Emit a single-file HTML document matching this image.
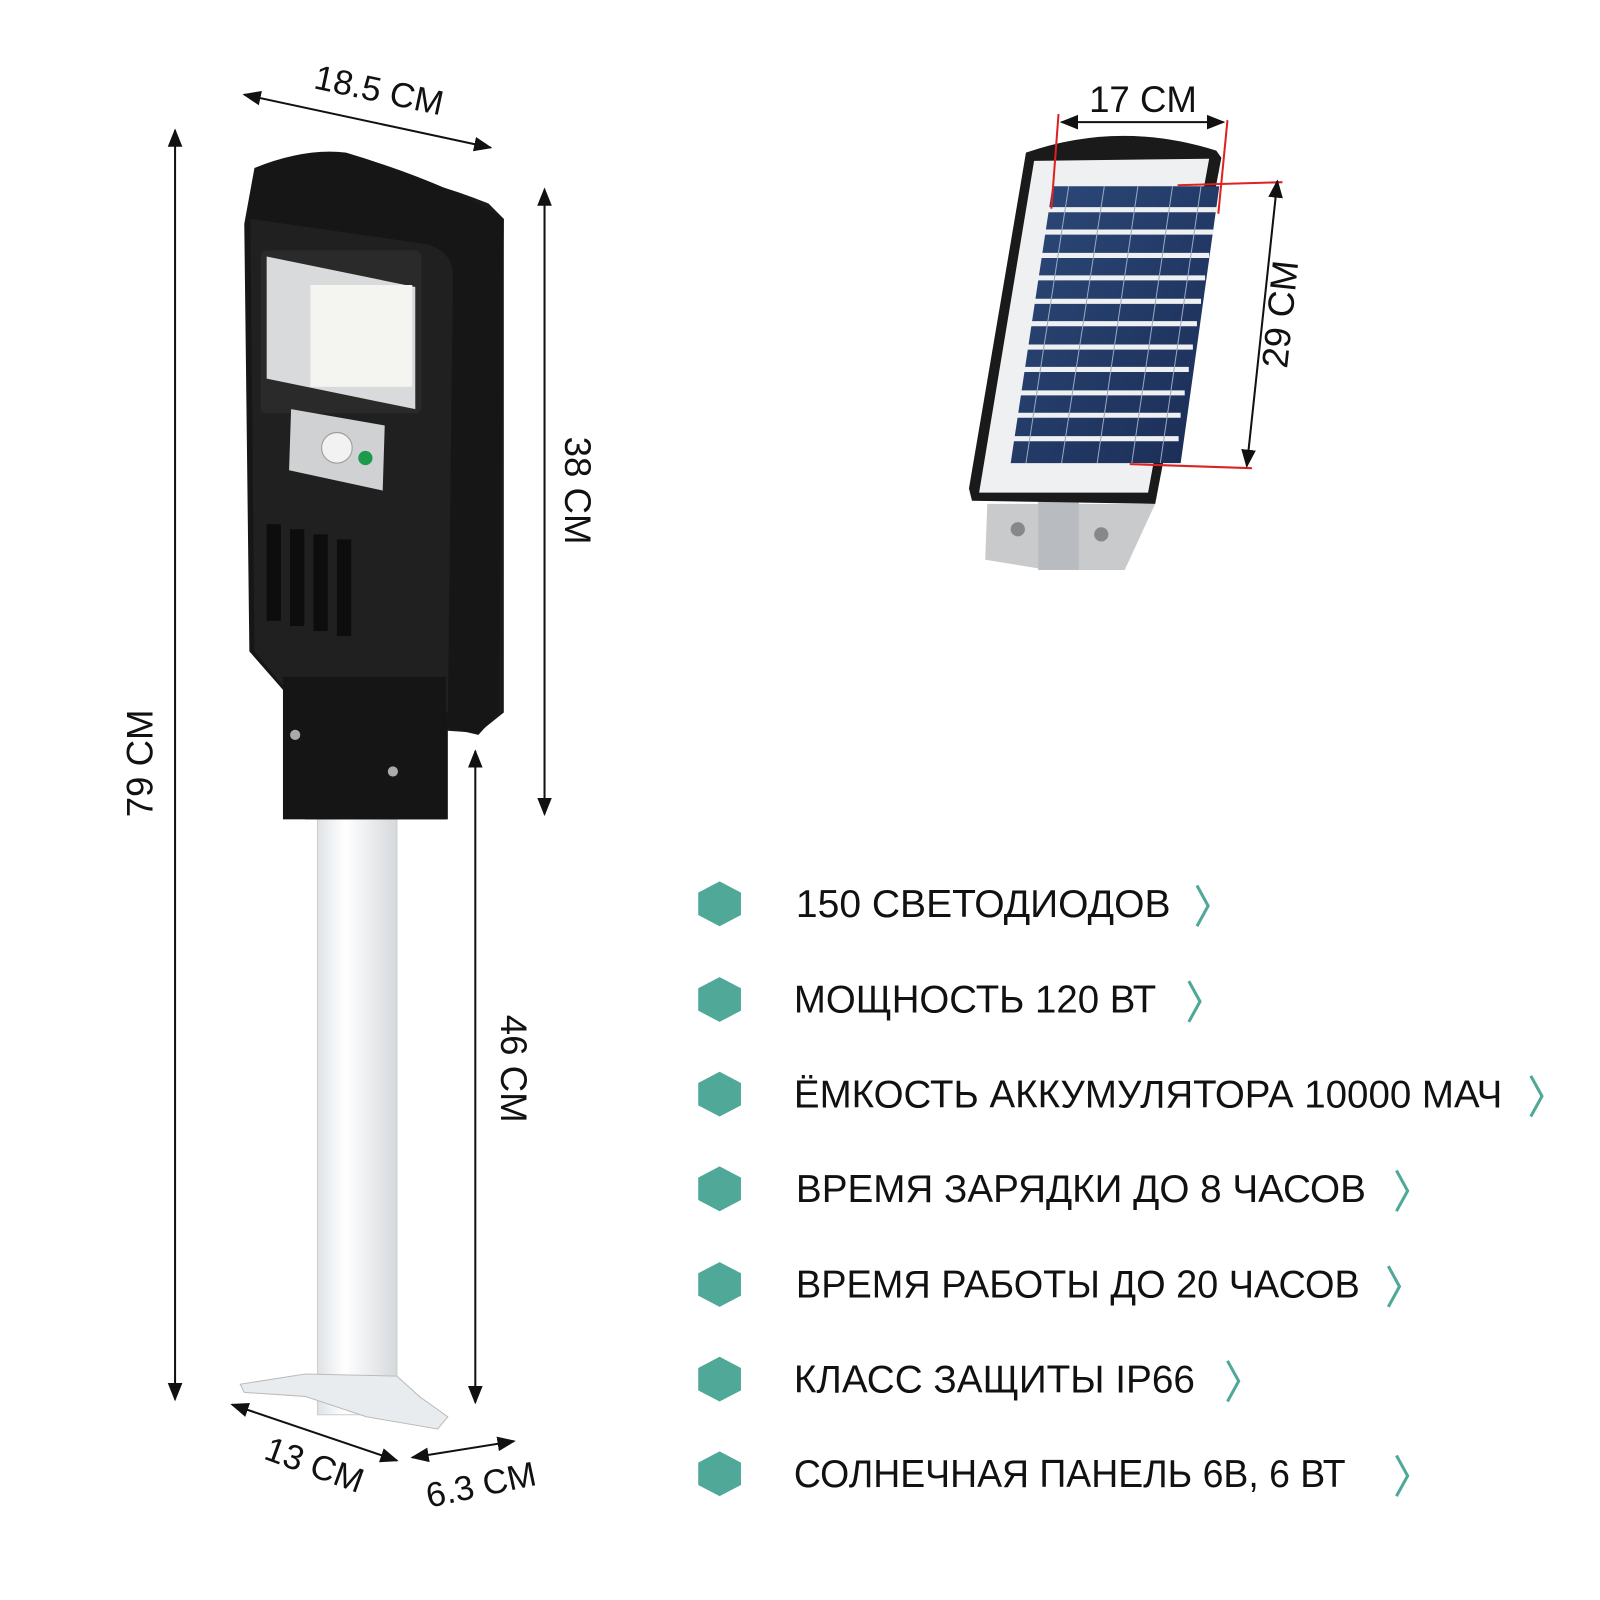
<!DOCTYPE html>
<html><head><meta charset="utf-8"><style>
html,body{margin:0;padding:0;background:#fff}
svg{display:block}
text{font-family:"Liberation Sans",sans-serif;fill:#111}
</style></head><body>
<svg width="1600" height="1600" viewBox="0 0 1572 1572" xmlns="http://www.w3.org/2000/svg">
<defs>
<marker id="a" viewBox="0 0 10 10" refX="9" refY="5" markerWidth="9" markerHeight="9" orient="auto-start-reverse"><path d="M0,1 L10,5 L0,9 z" fill="#111"/></marker>
<linearGradient id="pole" x1="0" x2="1"><stop offset="0" stop-color="#dfe3e6"/><stop offset=".35" stop-color="#fff"/><stop offset="1" stop-color="#d5d9dc"/></linearGradient>
<linearGradient id="cell" x1="0" y1="0" x2="1" y2="1"><stop offset="0" stop-color="#2d4a7a"/><stop offset="1" stop-color="#1a2c55"/></linearGradient>
</defs>

<!-- LAMP -->
<rect x="312" y="790" width="78" height="600" fill="url(#pole)" stroke="#ccc"/>
<path d="M236 1360 L300 1350 L390 1352 L412 1372 L440 1392 L430 1404 L360 1392 L300 1372 L240 1368 Z" fill="#e9ecee" stroke="#bbb"/>
<path d="M282 200 Q330 140 480 200 L495 215 L495 700 L470 720 L440 718 L430 700 Z" fill="#1a1a1a"/>
<path d="M250 165 Q300 145 340 150 Q440 180 495 215 L490 700 L470 722 L440 715 L440 805 L300 805 L280 760 L280 680 L245 640 L240 220 Z" fill="#161616"/>
<path d="M246 215 L420 240 Q445 248 445 270 L440 700 L300 700 L250 640 Z" fill="#202020"/>
<rect x="256" y="246" width="158" height="160" rx="6" fill="#2a2a2a"/>
<path d="M262 252 L408 282 L408 402 L262 372 Z" fill="#d8dadb"/>
<rect x="305" y="280" width="100" height="100" fill="#f4f5f0"/>
<path d="M286 402 L378 418 L376 482 L284 462 Z" fill="#cfd1d2"/>
<circle cx="331" cy="440" r="15" fill="#f2f2f2" stroke="#999"/>
<circle cx="359" cy="450" r="7" fill="#1a9a4a"/>
<g fill="#0d0d0d"><rect x="262" y="515" width="14" height="95"/><rect x="285" y="520" width="14" height="95"/><rect x="308" y="525" width="14" height="95"/><rect x="331" y="530" width="14" height="95"/></g>
<rect x="278" y="665" width="160" height="140" fill="#151515"/>
<circle cx="290" cy="722" r="5" fill="#aaa"/><circle cx="386" cy="758" r="5" fill="#aaa"/>

<!-- dimension lines lamp -->
<line x1="240" y1="93" x2="482" y2="145" stroke="#111" stroke-width="2" marker-start="url(#a)" marker-end="url(#a)"/>
<text x="370" y="100" font-size="34" text-anchor="middle" transform="rotate(12 370 100)">18.5 CM</text>
<line x1="172" y1="128" x2="172" y2="1375" stroke="#111" stroke-width="2" marker-start="url(#a)" marker-end="url(#a)"/>
<text x="150" y="750" font-size="36" text-anchor="middle" transform="rotate(-90 150 750)">79 CM</text>
<line x1="535" y1="186" x2="535" y2="800" stroke="#111" stroke-width="2" marker-start="url(#a)" marker-end="url(#a)"/>
<text x="555" y="482" font-size="36" text-anchor="middle" transform="rotate(90 555 482)">38 CM</text>
<line x1="467" y1="738" x2="467" y2="1378" stroke="#111" stroke-width="2" marker-start="url(#a)" marker-end="url(#a)"/>
<text x="492" y="1050" font-size="36" text-anchor="middle" transform="rotate(90 492 1050)">46 CM</text>
<line x1="228" y1="1380" x2="390" y2="1435" stroke="#111" stroke-width="2" marker-start="url(#a)" marker-end="url(#a)"/>
<text x="305" y="1450" font-size="34" text-anchor="middle" transform="rotate(20 305 1450)">13 CM</text>
<line x1="405" y1="1432" x2="505" y2="1416" stroke="#111" stroke-width="2" marker-start="url(#a)" marker-end="url(#a)"/>
<text x="475" y="1470" font-size="34" text-anchor="middle" transform="rotate(-12 475 1470)">6.3 CM</text>

<!-- SOLAR PANEL -->
<path d="M970 495 L1135 495 L1105 560 L1030 560 L968 550 Z" fill="#c8cacc"/>
<rect x="1020" y="485" width="40" height="75" fill="#b8bcc0"/>
<circle cx="1000" cy="520" r="7" fill="#888"/><circle cx="1082" cy="525" r="7" fill="#888"/>
<path d="M1008 150 Q1100 118 1195 148 L1200 155 L1135 495 L955 492 L952 480 Z" fill="#1a1a1a"/>
<path d="M1016 158 L1188 156 L1128 484 L962 484 Z" fill="#eef0f2"/>
<g>
<path d="M1034 183 L1198 183 L1160 455 L993 455 Z" fill="url(#cell)"/>
<g stroke="#eef0f2" stroke-width="5">
<line x1="1030" y1="206" x2="1196" y2="206"/><line x1="1026" y1="228" x2="1192" y2="228"/><line x1="1022" y1="251" x2="1188" y2="251"/><line x1="1018" y1="273" x2="1184" y2="273"/><line x1="1014" y1="296" x2="1180" y2="296"/><line x1="1010" y1="318" x2="1176" y2="318"/><line x1="1006" y1="341" x2="1172" y2="341"/><line x1="1002" y1="363" x2="1168" y2="363"/><line x1="998" y1="386" x2="1164" y2="386"/><line x1="994" y1="408" x2="1160" y2="408"/><line x1="990" y1="431" x2="1158" y2="431"/>
</g>
<g stroke="#9aa8c0" stroke-width="1"><line x1="1050" y1="183" x2="1008" y2="455"/><line x1="1085" y1="183" x2="1043" y2="455"/><line x1="1118" y1="183" x2="1078" y2="455"/><line x1="1152" y1="183" x2="1112" y2="455"/><line x1="1180" y1="183" x2="1140" y2="455"/></g>
</g>
<g stroke="#d22" stroke-width="2">
<line x1="1040" y1="112" x2="1033" y2="205"/><line x1="1206" y1="118" x2="1197" y2="210"/>
<line x1="1157" y1="182" x2="1260" y2="179"/><line x1="1110" y1="456" x2="1230" y2="460"/>
</g>
<line x1="1043" y1="120" x2="1202" y2="120" stroke="#111" stroke-width="2" marker-start="url(#a)" marker-end="url(#a)"/>
<text x="1123" y="110" font-size="36" text-anchor="middle">17 CM</text>
<line x1="1255" y1="178" x2="1225" y2="458" stroke="#111" stroke-width="2" marker-start="url(#a)" marker-end="url(#a)"/>
<text x="1270" y="310" font-size="36" text-anchor="middle" transform="rotate(-84 1270 310)">29 CM</text>

<!-- LIST -->
<g fill="#4fa898">
<polygon points="707,866 728,877 728,899 707,910 686,899 686,877"/>
<polygon points="707,866 728,877 728,899 707,910 686,899 686,877" transform="translate(0,94)"/>
<polygon points="707,866 728,877 728,899 707,910 686,899 686,877" transform="translate(0,187)"/>
<polygon points="707,866 728,877 728,899 707,910 686,899 686,877" transform="translate(0,280)"/>
<polygon points="707,866 728,877 728,899 707,910 686,899 686,877" transform="translate(0,374)"/>
<polygon points="707,866 728,877 728,899 707,910 686,899 686,877" transform="translate(0,467)"/>
<polygon points="707,866 728,877 728,899 707,910 686,899 686,877" transform="translate(0,560)"/>
</g>
<g font-size="38" letter-spacing="0">
<text x="782" y="901" textLength="368" lengthAdjust="spacingAndGlyphs">150 СВЕТОДИОДОВ</text>
<text x="780" y="995" textLength="356" lengthAdjust="spacingAndGlyphs">МОЩНОСТЬ 120 ВТ</text>
<text x="780" y="1088" textLength="696" lengthAdjust="spacingAndGlyphs">ЁМКОСТЬ АККУМУЛЯТОРА 10000 МАЧ</text>
<text x="782" y="1181" textLength="560" lengthAdjust="spacingAndGlyphs">ВРЕМЯ ЗАРЯДКИ ДО 8 ЧАСОВ</text>
<text x="782" y="1275" textLength="554" lengthAdjust="spacingAndGlyphs">ВРЕМЯ РАБОТЫ ДО 20 ЧАСОВ</text>
<text x="780" y="1368" textLength="394" lengthAdjust="spacingAndGlyphs">КЛАСС ЗАЩИТЫ IP66</text>
<text x="780" y="1461" textLength="542" lengthAdjust="spacingAndGlyphs">СОЛНЕЧНАЯ ПАНЕЛЬ 6В, 6 ВТ</text>
</g>
<g fill="none" stroke="#4fa898" stroke-width="3">
<polyline points="1176,870 1187,890 1176,910"/>
<polyline points="1168,964 1179,984 1168,1004"/>
<polyline points="1504,1057 1515,1077 1504,1097"/>
<polyline points="1372,1150 1383,1170 1372,1190"/>
<polyline points="1364,1244 1375,1264 1364,1284"/>
<polyline points="1206,1337 1217,1357 1206,1377"/>
<polyline points="1372,1430 1383,1450 1372,1470"/>
</g>
</svg>
</body></html>
